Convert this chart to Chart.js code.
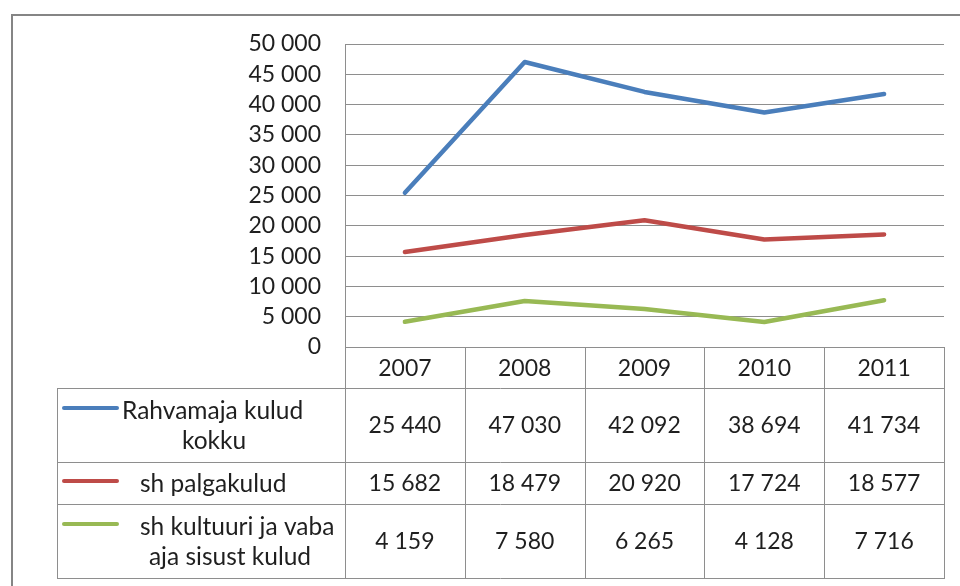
<!DOCTYPE html>
<html>
<head>
<meta charset="utf-8">
<script src="https://cdn.jsdelivr.net/npm/chart.js@4/dist/chart.umd.min.js"></script>
<style>
  html, body { margin: 0; padding: 0; background: #ffffff; }
  canvas { display: block; }
</style>
</head>
<body>
<canvas id="c" width="960" height="586"></canvas>
<script>
// ---- data ----
const years = ['2007', '2008', '2009', '2010', '2011'];
const totalCosts = [25440, 47030, 42092, 38694, 41734];
const salaryCosts = [15682, 18479, 20920, 17724, 18577];
const cultureCosts = [4159, 7580, 6265, 4128, 7716];
const seriesNames = [
  ['Rahvamaja kulud', 'kokku'],
  ['sh palgakulud'],
  ['sh kultuuri ja vaba', 'aja sisust kulud']
];
const yMin = 0, yMax = 50000, yStep = 5000;

// ---- styling ----
const FONT = 'Lato, "Open Sans", sans-serif';
const FONT_SIZE = 23;
const LABEL_FONT_SIZE = 24.5;
const TEXT = '#1f1f1f';
const GRID = '#8e8e8e';
const colors = ['#4A7EBB', '#BE4B48', '#98B954'];

function fmt(n) {
  return String(n).replace(/\B(?=(\d{3})+(?!\d))/g, ' ');
}

const seriesValues = [totalCosts, salaryCosts, cultureCosts];

const tablePlugin = {
  id: 'dataTable',
  beforeDraw(chart) {
    const ctx = chart.ctx;
    ctx.save();
    ctx.fillStyle = '#ffffff';
    ctx.fillRect(0, 0, chart.width, chart.height);
    ctx.strokeStyle = '#858585';
    ctx.lineWidth = 2;
    ctx.strokeRect(12, 15, chart.width + 20, chart.height + 20);
    ctx.restore();
  },
  afterDraw(chart) {
    const ctx = chart.ctx;
    const xs = chart.scales.x;
    const area = chart.chartArea;
    const n = years.length;
    const colW = (area.right - area.left) / n;
    const top = Math.round(area.bottom);
    const tableLeft = 57;
    const rowH = [41, 74, 42, 74];
    const rowTop = [top];
    for (let i = 0; i < rowH.length; i++) rowTop.push(rowTop[i] + rowH[i]);
    const bottom = rowTop[rowTop.length - 1];

    const bounds = [];
    for (let i = 0; i < n; i++) bounds.push(Math.round(xs.getPixelForValue(i) - colW / 2));
    bounds.push(Math.round(xs.getPixelForValue(n - 1) + colW / 2));
    const right = bounds[bounds.length - 1];

    ctx.save();
    ctx.strokeStyle = GRID;
    ctx.lineWidth = 1;
    ctx.beginPath();
    ctx.moveTo(bounds[0], top + 0.5); ctx.lineTo(right, top + 0.5);
    for (let r = 1; r < rowTop.length; r++) {
      ctx.moveTo(tableLeft, rowTop[r] + 0.5); ctx.lineTo(right, rowTop[r] + 0.5);
    }
    for (let i = 0; i < bounds.length; i++) {
      ctx.moveTo(bounds[i] + 0.5, top); ctx.lineTo(bounds[i] + 0.5, bottom + 1);
    }
    ctx.moveTo(tableLeft + 0.5, rowTop[1]); ctx.lineTo(tableLeft + 0.5, bottom + 1);
    ctx.stroke();

    ctx.fillStyle = TEXT;
    ctx.font = FONT_SIZE + 'px ' + FONT;
    ctx.textBaseline = 'middle';
    ctx.textAlign = 'center';
    for (let i = 0; i < n; i++) {
      ctx.fillText(years[i], xs.getPixelForValue(i), (rowTop[0] + rowTop[1]) / 2 + 1);
    }
    for (let s = 0; s < seriesValues.length; s++) {
      const cy = (rowTop[s + 1] + rowTop[s + 2]) / 2 + 1;
      for (let i = 0; i < n; i++) {
        ctx.fillText(fmt(seriesValues[s][i]), xs.getPixelForValue(i), cy);
      }
    }
    ctx.font = LABEL_FONT_SIZE + 'px ' + FONT;
    const labelLayout = [
      [{ x: 122, align: 'left' }, { x: 214, align: 'center' }],
      [{ x: 140, align: 'left' }],
      [{ x: 140, align: 'left' }, { x: 230, align: 'center' }]
    ];
    for (let s = 0; s < seriesNames.length; s++) {
      const lines = seriesNames[s];
      const cy = (rowTop[s + 1] + rowTop[s + 2]) / 2;
      const lh = 30;
      const firstY = cy - (lines.length - 1) * lh / 2;
      ctx.strokeStyle = colors[s];
      ctx.lineWidth = 4;
      ctx.lineCap = 'round';
      ctx.beginPath();
      ctx.moveTo(64, firstY - 2);
      ctx.lineTo(117, firstY - 2);
      ctx.stroke();
      for (let l = 0; l < lines.length; l++) {
        const lay = labelLayout[s][l];
        ctx.textAlign = lay.align;
        ctx.fillText(lines[l], lay.x, firstY + l * lh + 1);
      }
    }
    ctx.restore();
  }
};

const names = seriesNames.map(a => a.join(' '));
new Chart(document.getElementById('c'), {
  type: 'line',
  data: {
    labels: years,
    datasets: [0, 1, 2].map(s => ({
      label: names[s],
      data: seriesValues[s],
      borderColor: colors[s],
      backgroundColor: colors[s],
      borderWidth: 4.5,
      pointRadius: 0,
      tension: 0,
      borderCapStyle: 'round',
      borderJoinStyle: 'round',
      fill: false
    }))
  },
  options: {
    responsive: false,
    animation: false,
    devicePixelRatio: 1,
    layout: { padding: { left: 0, top: 44, right: 16, bottom: 239 } },
    plugins: { legend: { display: false }, tooltip: { enabled: false } },
    scales: {
      x: { type: 'category', offset: true, display: false },
      y: {
        min: yMin, max: yMax,
        ticks: {
          stepSize: yStep,
          autoSkip: false,
          padding: 24,
          color: TEXT,
          font: { family: FONT, size: FONT_SIZE },
          callback: v => fmt(v)
        },
        grid: { color: GRID, lineWidth: 1, drawTicks: false },
        border: { display: true, color: GRID, width: 1 },
        afterFit(scale) { scale.width = 345; }
      }
    }
  },
  plugins: [tablePlugin]
});
</script>
</body>
</html>
